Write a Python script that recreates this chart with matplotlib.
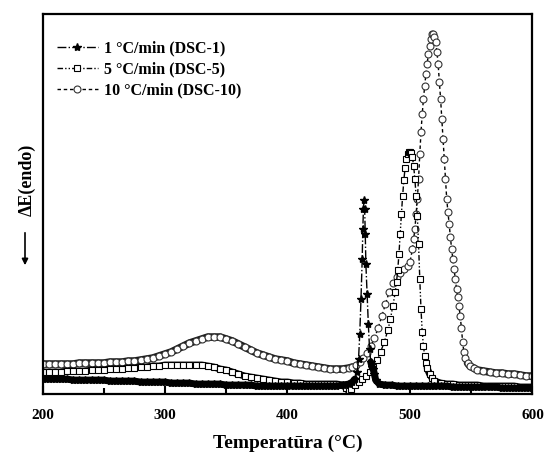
import matplotlib.pyplot as plt
import numpy as np

# 10 °C/min (DSC-10), circles
t10 = [200, 205, 210, 215, 220, 225, 230, 235, 240, 245, 250, 255, 260, 265, 270,
       275, 280, 285, 290, 295, 300, 305, 310, 315, 320, 325, 330, 335, 340, 345,
       350, 355, 360, 365, 370, 375, 380, 385, 390, 395, 400, 405, 410, 415, 420,
       425, 430, 435, 440, 445, 450, 453, 456, 459, 462, 465, 468, 471, 474, 477,
       480, 483, 486, 489, 492, 495, 498, 500, 502, 503, 504, 505, 506, 507, 508,
       509, 510, 511, 512, 513, 514, 515, 516, 517, 518, 519, 520, 521, 522, 523,
       524, 525, 526, 527, 528, 529, 530, 531, 532, 533, 534, 535, 536, 537, 538,
       539, 540, 541, 542, 543, 544, 545, 547, 549, 552, 555, 560, 565, 570, 575,
       580, 585, 590, 595, 600]
v10 = [30, 30, 30, 30, 30, 30, 31, 31, 31, 31, 31, 32, 32, 32, 33,
       33, 34, 35, 36, 38, 40, 42, 45, 48, 51, 53, 55, 57, 57, 57,
       55, 53, 50, 47, 44, 41, 39, 37, 35, 34, 33, 31, 30, 29, 28,
       27, 26, 25, 25, 25, 26, 27, 29, 32, 36, 41, 48, 56, 66, 78,
       90, 102, 111, 117, 121, 125, 128, 132, 145, 155, 165, 180, 195, 215, 240,
       262, 280, 295, 308, 320, 330, 340, 348, 355, 360, 360, 357, 352, 342, 330,
       312, 295, 275, 255, 235, 215, 195, 182, 170, 157, 145, 135, 125, 115, 105,
       97, 88, 78, 66, 52, 42, 36, 31, 28, 26, 24, 23, 22, 21, 21,
       20, 20, 19, 18, 18]

# 5 °C/min (DSC-5), squares
t5 = [200, 205, 210, 215, 220, 225, 230, 235, 240, 245, 250, 255, 260, 265, 270,
      275, 280, 285, 290, 295, 300, 305, 310, 315, 320, 325, 330, 335, 340, 345,
      350, 355, 360, 365, 370, 375, 380, 385, 390, 395, 400, 405, 410, 415, 420,
      425, 430, 435, 440, 445, 448, 450, 452, 455, 458, 461, 464, 467, 470, 473,
      476, 479, 482, 484, 486, 488, 489, 490, 491, 492, 493, 494, 495, 496, 497,
      498, 499, 500, 501, 502, 503, 504, 505, 506, 507, 508, 509, 510, 511, 512,
      513, 514, 516, 518, 520, 525, 530, 535, 540, 545, 550, 555, 560, 565, 570,
      575, 580, 585, 590, 595, 600]
v5 = [22, 22, 22, 22, 23, 23, 23, 23, 24, 24, 24, 25, 25, 25, 26,
      26, 27, 27, 28, 28, 29, 29, 29, 29, 29, 29, 29, 28, 27, 25,
      24, 22, 20, 18, 17, 16, 15, 14, 13, 12, 12, 11, 11, 10, 10,
      10, 10, 10, 10, 9, 6, 3, 5, 9, 12, 15, 18, 22, 27, 34,
      42, 52, 64, 75, 88, 102, 112, 124, 140, 160, 180, 198, 214, 226, 235,
      240, 242, 242, 241, 237, 228, 215, 198, 178, 150, 115, 85, 62, 48, 38,
      31, 26, 20, 16, 13, 11, 10, 10, 9, 9, 9, 9, 8, 8, 8,
      8, 8, 8, 7, 7, 7]

# 1 °C/min (DSC-1), stars
t1 = [200, 205, 210, 215, 220, 225, 230, 235, 240, 245, 250, 255, 260, 265, 270,
      275, 280, 285, 290, 295, 300, 305, 310, 315, 320, 325, 330, 335, 340, 345,
      350, 355, 360, 365, 370, 375, 380, 385, 390, 395, 400, 405, 410, 415, 420,
      425, 430, 435, 440, 445, 450, 453, 455, 457, 458, 459, 460, 461, 461.5, 462,
      462.5, 463, 463.5, 464, 465, 466, 467, 468, 469, 470, 471, 472, 475, 480,
      485, 490, 495, 500, 505, 510, 515, 520, 525, 530, 535, 540, 545, 550, 555,
      560, 565, 570, 575, 580, 585, 590, 595, 600]
v1 = [15, 15, 15, 15, 15, 14, 14, 14, 14, 14, 14, 13, 13, 13, 13,
      13, 12, 12, 12, 12, 12, 11, 11, 11, 11, 10, 10, 10, 10, 10,
      9, 9, 9, 9, 9, 8, 8, 8, 8, 8, 8, 8, 8, 8, 8,
      8, 8, 8, 8, 9, 10, 12, 15, 22, 35, 60, 95, 135, 165, 185,
      194, 185, 160, 130, 100, 70, 45, 32, 27, 25, 20, 14, 10, 9,
      9, 8, 8, 8, 8, 8, 8, 8, 8, 8, 7, 7, 7, 7, 7,
      7, 7, 7, 6, 6, 6, 6, 6, 6]

labels = ["1 \u00b0C/min (DSC-1)", "5 \u00b0C/min (DSC-5)", "10 \u00b0C/min (DSC-10)"]

plt.rcParams["font.family"] = ["Liberation Serif", "DejaVu Serif"]
plt.rcParams["font.weight"] = "bold"

t1, v1 = np.array(t1), np.array(v1)
t5, v5 = np.array(t5), np.array(v5)
t10, v10 = np.array(t10), np.array(v10)

fig = plt.figure(figsize=(5.45, 4.54), dpi=100)
ax = fig.add_axes([0.078, 0.132, 0.899, 0.837])

# the overlapping markers of the original form solid bands along the baselines
for m in [t1 < 457, t1 > 467]:
    ax.plot(t1[m], v1[m], color="black", lw=5, solid_capstyle="round", zorder=3)
for m in [t5 < 452, t5 > 513]:
    ax.plot(t5[m], v5[m], color="black", lw=5, solid_capstyle="round", zorder=2)
for m in [t10 < 456, t10 > 546]:
    ax.plot(t10[m], v10[m], color="#1a1a1a", lw=5.5, solid_capstyle="round", zorder=1)
    ax.plot(t10[m], v10[m], color="#8f8f8f", lw=2.2, solid_capstyle="round", zorder=1)

ax.plot(t1, v1, color="black", lw=1, linestyle="-.", marker="*", ms=6,
        mfc="black", mec="black", label=labels[0], zorder=3)
ax.plot(t5, v5, color="black", lw=1, linestyle=(0, (4, 1.5, 1, 1.5, 1, 1.5)),
        marker="s", ms=4, mfc="white", mec="black", mew=0.8, label=labels[1], zorder=2)
ax.plot(t10, v10, color="black", lw=1, linestyle=(0, (2.5, 2)), marker="o", ms=5,
        mfc="white", mec="#333333", mew=0.8, label=labels[2], zorder=1)

ax.set_xlim(200, 600)
ax.set_ylim(0, 380)
ax.set_yticks([])
ax.set_xticks([200, 300, 400, 500, 600])
ax.set_xticks([250, 350, 450, 550], minor=True)
ax.tick_params(axis="x", which="major", direction="in", length=6, width=1.5,
               labelsize=11, pad=11)
ax.tick_params(axis="x", which="minor", direction="in", length=4, width=1.5)
for s in ax.spines.values():
    s.set_linewidth(1.6)

ax.set_xlabel("Temperat\u016bra (\u00b0C)", fontsize=14, fontweight="bold", labelpad=9)

fig.text(27 / 545, 1 - 180 / 454, "\u0394E(endo)", rotation=90, fontsize=13,
         fontweight="bold", ha="center", va="center")
ax.annotate("", xy=(25 / 545, 1 - 268 / 454), xytext=(25 / 545, 1 - 230 / 454),
            xycoords="figure fraction", textcoords="figure fraction",
            arrowprops=dict(arrowstyle="-|>", color="black", lw=1.2, mutation_scale=9))

ax.legend(loc="upper left", bbox_to_anchor=(0.029, 0.93), frameon=False,
          borderaxespad=0, borderpad=0, handlelength=2.6, handletextpad=0.35,
          labelspacing=0.3, numpoints=1, prop={"size": 11.5, "weight": "bold"})

fig.savefig("out.png", dpi=100)
